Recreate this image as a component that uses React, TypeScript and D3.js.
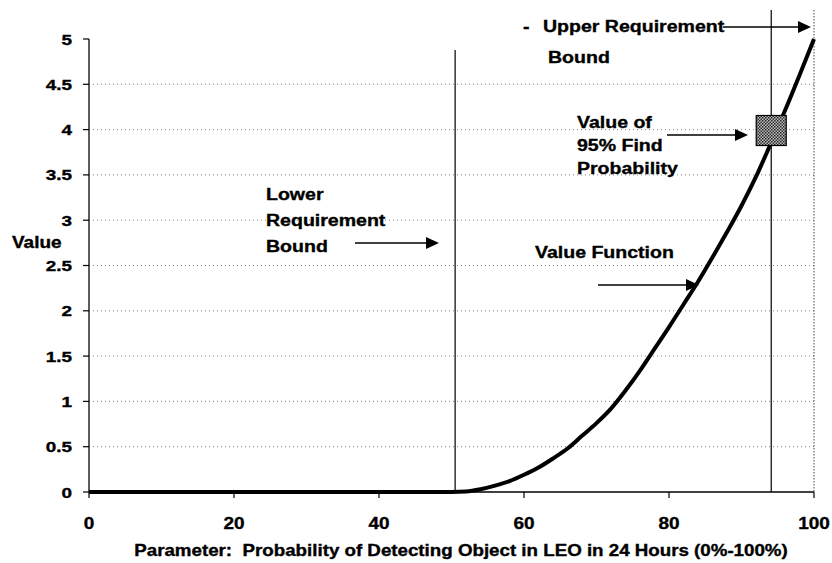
import React from 'react';
import * as d3 from 'd3';

// value function
const probX = [0, 10, 20, 30, 40, 50, 52, 54, 56, 58, 60, 62, 64, 66, 68, 70, 72, 74, 76, 78, 80, 82, 84, 86, 88, 90, 92, 94, 96, 98, 100];
const valueY = [0, 0, 0, 0, 0, 0, 0.005, 0.03, 0.07, 0.12, 0.19, 0.27, 0.37, 0.48, 0.62, 0.76, 0.92, 1.12, 1.34, 1.58, 1.82, 2.07, 2.32, 2.59, 2.87, 3.16, 3.48, 3.84, 4.21, 4.6, 5.0];

const xTicks = [0, 20, 40, 60, 80, 100];
const yTicks = [0, 0.5, 1, 1.5, 2, 2.5, 3, 3.5, 4, 4.5, 5];

const lowerBound = 50.5;
const upperBound = 94.1;
const markerX = 94.1;
const markerV = 3.99;

const W = 832;
const H = 563;
const font = 'Arial, "Liberation Sans", sans-serif';
const SX = 1.15; // the scan is a little wide

const T: React.FC<{ x: number; y: number; size: number; anchor?: string; sx?: number; children: React.ReactNode }> = ({
  x, y, size, anchor = 'start', sx = SX, children,
}) => (
  <text
    transform={`translate(${x},${y}) scale(${sx},1)`}
    textAnchor={anchor}
    fontSize={size}
    fontFamily={font}
    fontWeight="bold"
    fill="#000"
    stroke="#000"
    strokeWidth={0.35}
  >
    {children}
  </text>
);

const Arrow: React.FC<{ x1: number; x2: number; y: number }> = ({ x1, x2, y }) => (
  <g>
    <line x1={x1} x2={x2 - 10} y1={y} y2={y} stroke="#000" strokeWidth={1.7} />
    <path d={`M${x2},${y} L${x2 - 13},${y - 6} L${x2 - 13},${y + 6} Z`} fill="#000" />
  </g>
);

export default function App() {
  const x = d3.scaleLinear().domain([0, 100]).range([89, 814]);
  const y = d3.scaleLinear().domain([0, 5]).range([492, 39]);

  const pts = probX.map((p, i) => [p, valueY[i]] as [number, number]);
  const line = d3.line<[number, number]>()
    .x(d => x(d[0]))
    .y(d => y(d[1]))
    .curve(d3.curveMonotoneX);

  return (
    <svg width={W} height={H} style={{ position: 'absolute', left: 0, top: 0, background: '#fff' }}>
      <defs>
        <pattern id="dither" width={3} height={3} patternUnits="userSpaceOnUse">
          <rect width={3} height={3} fill="#bbb" />
          <rect width={1.5} height={1.5} fill="#222" />
          <rect x={1.5} y={1.5} width={1.5} height={1.5} fill="#333" />
        </pattern>
      </defs>

      {/* dotted gridlines */}
      {yTicks.filter(t => t > 0 && t < 5).map(t => (
        <line key={t} x1={x(0)} x2={x(100)} y1={y(t)} y2={y(t)}
          stroke="#666" strokeWidth={0.8} strokeDasharray="1,3" />
      ))}

      {/* right edge dotted */}
      <line x1={x(100)} x2={x(100)} y1={10} y2={y(0)} stroke="#444" strokeWidth={1} strokeDasharray="1.5,1.5" />

      {/* bounds */}
      <line x1={x(lowerBound)} x2={x(lowerBound)} y1={50} y2={y(0)} stroke="#000" strokeWidth={1.2} />
      <line x1={x(upperBound)} x2={x(upperBound)} y1={10} y2={y(0)} stroke="#000" strokeWidth={1.2} />

      {/* y axis */}
      <line x1={x(0)} x2={x(0)} y1={y(5)} y2={y(0)} stroke="#333" strokeWidth={1.6} />
      {yTicks.map(t => (
        <g key={t}>
          <line x1={x(0) - 6} x2={x(0)} y1={y(t)} y2={y(t)} stroke="#000" strokeWidth={1.2} />
          <T x={72} y={y(t) + 5.5} size={15.5} anchor="end" sx={1.22}>{t}</T>
        </g>
      ))}

      {/* x axis */}
      <line x1={x(0)} x2={x(100)} y1={y(0)} y2={y(0)} stroke="#000" strokeWidth={1.5} />
      {xTicks.map(t => (
        <g key={t}>
          <line x1={x(t)} x2={x(t)} y1={y(0)} y2={y(0) + 6} stroke="#000" strokeWidth={1.2} />
          <T x={x(t)} y={529} size={16.5} anchor="middle" sx={1.15}>{t}</T>
        </g>
      ))}

      {/* value function */}
      <path d={line(pts) ?? ''} fill="none" stroke="#000" strokeWidth={4} strokeLinejoin="round" />

      {/* 95% marker */}
      <rect x={x(markerX) - 15} y={y(markerV) - 15} width={30} height={30}
        fill="url(#dither)" stroke="#000" strokeWidth={1.2} />

      {/* axis titles */}
      <T x={12} y={248} size={16.5}>Value</T>
      <T x={461} y={556} size={16.3} anchor="middle">
        Parameter:{'\u00a0\u00a0'}Probability of Detecting Object in LEO in 24 Hours (0%-100%)
      </T>

      {/* annotations */}
      <T x={266} y={200} size={17}>Lower</T>
      <T x={266} y={226} size={17}>Requirement</T>
      <T x={266} y={252} size={17}>Bound</T>

      <T x={523} y={32} size={17}>-</T>
      <T x={543} y={32} size={17}>Upper Requirement</T>
      <T x={548} y={63} size={17}>Bound</T>

      <T x={577} y={128} size={17}>Value of</T>
      <T x={577} y={151} size={17}>95% Find</T>
      <T x={577} y={174} size={17}>Probability</T>

      <T x={535} y={258} size={17}>Value Function</T>

      <Arrow x1={355} x2={439} y={243} />
      <Arrow x1={723} x2={811} y={27} />
      <Arrow x1={667} x2={748} y={135} />
      <Arrow x1={598} x2={699} y={285} />
    </svg>
  );
}
